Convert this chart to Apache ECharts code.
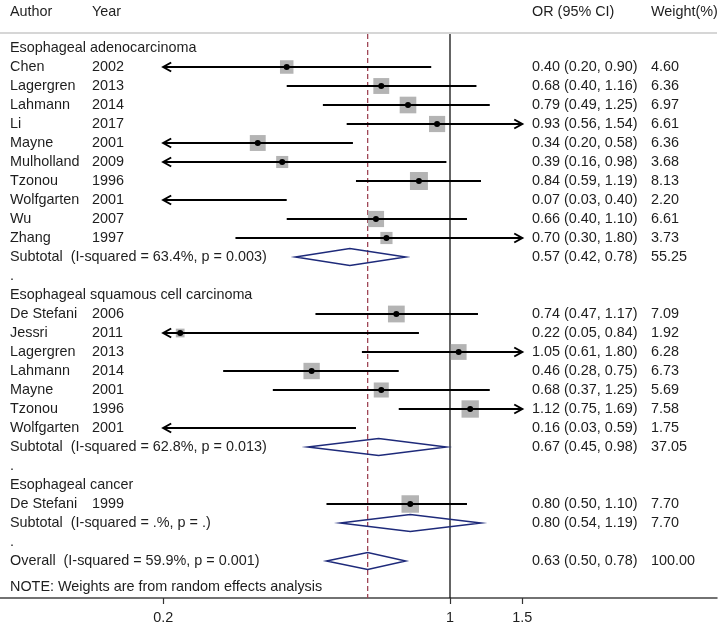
<!DOCTYPE html>
<html><head><meta charset="utf-8">
<script src="https://cdn.jsdelivr.net/npm/echarts@6/dist/echarts.min.js"></script>
<style>html,body{margin:0;padding:0;background:#fff}#c{width:720px;height:626px}</style>
</head><body><div id="c"></div>
<script>
// ---------------- DATA ----------------
const groupNames = ['Esophageal adenocarcinoma', 'Esophageal squamous cell carcinoma', 'Esophageal cancer'];
const studyGroup  = [0,0,0,0,0,0,0,0,0,0, 1,1,1,1,1,1,1, 2];
const studyAuthor = ['Chen','Lagergren','Lahmann','Li','Mayne','Mulholland','Tzonou','Wolfgarten','Wu','Zhang',
                     'De Stefani','Jessri','Lagergren','Lahmann','Mayne','Tzonou','Wolfgarten',
                     'De Stefani'];
const studyYear   = ['2002','2013','2014','2017','2001','2009','1996','2001','2007','1997',
                     '2006','2011','2013','2014','2001','1996','2001',
                     '1999'];
const studyOR     = [0.40,0.68,0.79,0.93,0.34,0.39,0.84,0.07,0.66,0.70, 0.74,0.22,1.05,0.46,0.68,1.12,0.16, 0.80];
const studyLo     = [0.20,0.40,0.49,0.56,0.20,0.16,0.59,0.03,0.40,0.30, 0.47,0.05,0.61,0.28,0.37,0.75,0.03, 0.50];
const studyHi     = [0.90,1.16,1.25,1.54,0.58,0.98,1.19,0.40,1.10,1.80, 1.17,0.84,1.80,0.75,1.25,1.69,0.59, 1.10];
const studyWeight = [4.60,6.36,6.97,6.61,6.36,3.68,8.13,2.20,6.61,3.73, 7.09,1.92,6.28,6.73,5.69,7.58,1.75, 7.70];

const subtotalLabel  = ['Subtotal  (I-squared = 63.4%, p = 0.003)',
                        'Subtotal  (I-squared = 62.8%, p = 0.013)',
                        'Subtotal  (I-squared = .%, p = .)'];
const subtotalOR     = [0.57, 0.67, 0.80];
const subtotalLo     = [0.42, 0.45, 0.54];
const subtotalHi     = [0.78, 0.98, 1.19];
const subtotalWeight = [55.25, 37.05, 7.70];

const overallLabel  = 'Overall  (I-squared = 59.9%, p = 0.001)';
const overallOR     = [0.63];
const overallLo     = [0.50];
const overallHi     = [0.78];
const overallWeight = [100.00];

const headerLabels = ['Author', 'Year', 'OR (95% CI)', 'Weight(%)'];
const noteText = 'NOTE: Weights are from random effects analysis';
const tickValues = [0.2, 1, 1.5];
const tickLabels = ['0.2', '1', '1.5'];

// ---------------- LAYOUT (rows) ----------------
const LN = Math.log;
const FONT = '"Liberation Sans", Arial, sans-serif';
const FS = 14.4;
const TXT = '#1e1e1e';
const colX = [10, 92, 532, 651];
const ciMin = tickValues[0], ciMax = tickValues[tickValues.length - 1];

const studyRow = [], groupRow = [], subtotalRow = [], dotRow = [];
let r = 0;
for (let g = 0; g < groupNames.length; g++) {
  groupRow[g] = r++;
  for (let i = 0; i < studyGroup.length; i++) if (studyGroup[i] === g) studyRow[i] = r++;
  subtotalRow[g] = r++;
  dotRow[g] = r++;
}
const overallRow = r;
const headerRow = -1.9, ruleRow = -0.79, noteRow = 28.37;
const yMin = -48 / 19, yMax = 550 / 19;
const xMin = -450 / 178.2, xMax = 267 / 178.2;

const f2 = v => v.toFixed(2);
const orText = (o, l, h) => f2(o) + ' (' + f2(l) + ', ' + f2(h) + ')';

// text items
const texts = [];
headerLabels.forEach((t, k) => texts.push({row: headerRow, col: k, text: t}));
groupNames.forEach((t, g) => {
  texts.push({row: groupRow[g], col: 0, text: t});
  texts.push({row: subtotalRow[g], col: 0, text: subtotalLabel[g]});
  texts.push({row: subtotalRow[g], col: 2, text: orText(subtotalOR[g], subtotalLo[g], subtotalHi[g])});
  texts.push({row: subtotalRow[g], col: 3, text: f2(subtotalWeight[g])});
  texts.push({row: dotRow[g], col: 0, text: '.'});
});
studyAuthor.forEach((a, i) => {
  texts.push({row: studyRow[i], col: 0, text: a});
  texts.push({row: studyRow[i], col: 1, text: studyYear[i]});
  texts.push({row: studyRow[i], col: 2, text: orText(studyOR[i], studyLo[i], studyHi[i])});
  texts.push({row: studyRow[i], col: 3, text: f2(studyWeight[i])});
});
texts.push({row: overallRow, col: 0, text: overallLabel});
texts.push({row: overallRow, col: 2, text: orText(overallOR[0], overallLo[0], overallHi[0])});
texts.push({row: overallRow, col: 3, text: f2(overallWeight[0])});
texts.push({row: noteRow, col: 0, text: noteText});

// diamonds
const dOR = subtotalOR.concat(overallOR), dLo = subtotalLo.concat(overallLo), dHi = subtotalHi.concat(overallHi);
const dRow = subtotalRow.concat([overallRow]);

const chart = echarts.init(document.getElementById('c'), null, {renderer: 'canvas'});
chart.setOption({
  animation: false,
  backgroundColor: '#fff',
  grid: {left: 0, right: 3, top: 0, height: 598, containLabel: false},
  xAxis: {
    type: 'value', min: xMin, max: xMax, position: 'bottom',
    axisLine: {show: true, onZero: false, lineStyle: {color: '#444', width: 1.5}},
    axisTick: {show: true, length: 6, customValues: tickValues.map(LN), lineStyle: {color: '#333', width: 1.2}},
    axisLabel: {show: true, customValues: tickValues.map(LN), margin: 13, fontSize: FS, fontFamily: FONT, color: TXT,
      formatter: v => { let best = 0; tickValues.forEach((t, k) => { if (Math.abs(LN(t) - v) < Math.abs(LN(tickValues[best]) - v)) best = k; }); return tickLabels[best]; }},
    splitLine: {show: false}
  },
  yAxis: {type: 'value', inverse: true, min: yMin, max: yMax, show: false},
  series: [
    { // reference lines
      type: 'custom', z: 1,
      data: [[0, 0], [1, 0], [2, 0]],
      renderItem: (params, api) => {
        const k = params.dataIndex;
        if (k === 0) {
          const a = api.coord([xMin, ruleRow]), b = api.coord([xMax, ruleRow]);
          return {type: 'line', shape: {x1: a[0], y1: a[1], x2: b[0], y2: b[1]}, style: {stroke: '#c8c8c8', lineWidth: 1.5}};
        }
        const xv = k === 1 ? 0 : LN(overallOR[0]);
        const a = api.coord([xv, ruleRow]), b = api.coord([xv, yMax]);
        return {type: 'line', shape: {x1: a[0], y1: a[1] + 1, x2: b[0], y2: b[1]},
          style: k === 1 ? {stroke: '#111', lineWidth: 1.3} : {stroke: '#a04656', lineWidth: 1.3, lineDash: [5, 3]}};
      }
    },
    { // studies
      type: 'custom', z: 3,
      data: studyOR.map((v, i) => [LN(v), studyRow[i]]),
      renderItem: (params, api) => {
        const i = params.dataIndex, row = studyRow[i];
        const children = [];
        const lo = Math.max(studyLo[i], ciMin), hi = Math.min(studyHi[i], ciMax);
        const p1 = api.coord([LN(lo), row]), p2 = api.coord([LN(hi), row]);
        const inRange = studyOR[i] >= ciMin && studyOR[i] <= ciMax;
        const pc = api.coord([LN(studyOR[i]), row]);
        if (inRange) {
          const s = 6.3 * Math.sqrt(studyWeight[i]);
          children.push({type: 'rect', shape: {x: pc[0] - s / 2, y: pc[1] - s / 2, width: s, height: s}, style: {fill: '#b4b4b4'}});
        }
        children.push({type: 'line', shape: {x1: p1[0], y1: p1[1], x2: p2[0], y2: p2[1]}, style: {stroke: '#000', lineWidth: 2}});
        if (studyLo[i] <= ciMin) children.push({type: 'polyline', shape: {points: [[p1[0] + 8, p1[1] - 4.5], [p1[0], p1[1]], [p1[0] + 8, p1[1] + 4.5]]}, style: {stroke: '#000', lineWidth: 2, fill: null}});
        if (studyHi[i] >= ciMax) children.push({type: 'polyline', shape: {points: [[p2[0] - 8, p2[1] - 4.5], [p2[0], p2[1]], [p2[0] - 8, p2[1] + 4.5]]}, style: {stroke: '#000', lineWidth: 2, fill: null}});
        if (inRange) children.push({type: 'circle', shape: {cx: pc[0], cy: pc[1], r: 3}, style: {fill: '#000'}});
        return {type: 'group', children};
      }
    },
    { // diamonds
      type: 'custom', z: 3,
      data: dOR.map((v, i) => [LN(v), dRow[i]]),
      renderItem: (params, api) => {
        const i = params.dataIndex, row = dRow[i];
        const l = api.coord([LN(dLo[i]), row]), c = api.coord([LN(dOR[i]), row]), h = api.coord([LN(dHi[i]), row]);
        const hh = 8.5;
        return {type: 'polygon', shape: {points: [[l[0], l[1]], [c[0], c[1] - hh], [h[0], h[1]], [c[0], c[1] + hh]]},
          style: {stroke: '#1e2a7a', lineWidth: 1.5, fill: 'rgba(255,255,255,0)'}};
      }
    },
    { // texts
      type: 'custom', z: 4,
      data: texts.map(t => [0, t.row]),
      renderItem: (params, api) => {
        const t = texts[params.dataIndex];
        const p = api.coord([0, t.row]);
        return {type: 'text', x: colX[t.col], y: p[1],
          style: {text: t.text, fill: TXT, fontSize: FS, fontFamily: FONT, align: 'left', verticalAlign: 'middle'}};
      }
    }
  ]
});
</script>
</body></html>
